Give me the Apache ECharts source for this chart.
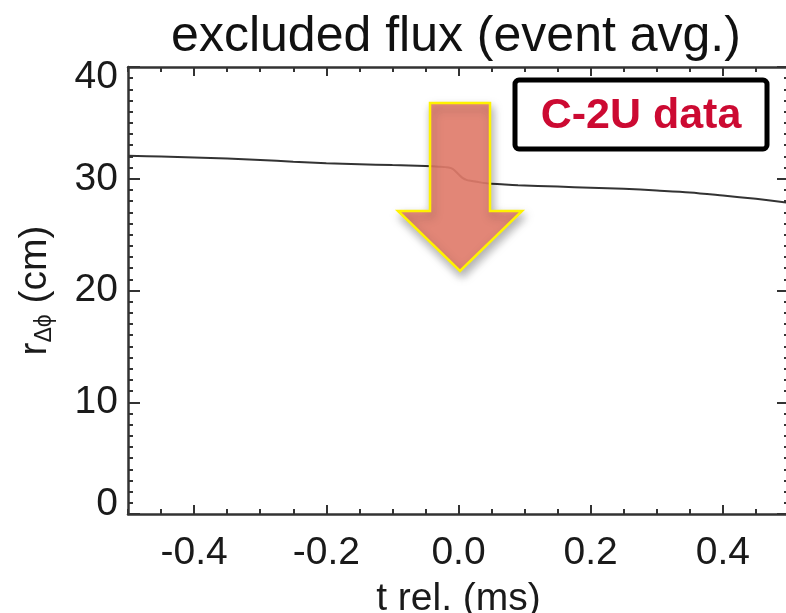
<!DOCTYPE html>
<html>
<head>
<meta charset="utf-8">
<script src="https://cdn.jsdelivr.net/npm/echarts@6/dist/echarts.min.js"></script>
<style>html,body{margin:0;padding:0;background:#fff}#c{width:786px;height:613px}</style>
</head>
<body>
<div id="c"></div>
<script>
// time relative to event (ms)
const T = [-0.5,-0.45,-0.4,-0.35,-0.3,-0.25,-0.2,-0.15,-0.1,-0.05,-0.03,-0.015,-0.008,0.0,0.006,0.012,0.02,0.03,0.046,0.07,0.09,0.15,0.2,0.25,0.3,0.35,0.4,0.45,0.5];
// excluded flux radius (cm)
const R = [32.06,31.99,31.91,31.81,31.68,31.53,31.39,31.3,31.22,31.14,31.08,31.0,30.85,30.4,30.08,29.9,29.8,29.7,29.57,29.48,29.42,29.3,29.2,29.1,28.95,28.78,28.5,28.2,27.85];
const X_LABELS = [-0.4,-0.2,0.0,0.2,0.4];
const Y_LABELS = [0,10,20,30,40];

const FONT = 'Liberation Sans';
const AX = '#333';
const chart = echarts.init(document.getElementById('c'));

function xMajor(pos, labels) {
  return {
    type:'value', min:-0.5, max:0.5, position:pos,
    axisLine:{show:true, onZero:false, lineStyle:{color:AX, width:2.5}},
    axisTick:{show:true, inside:true, length:9, customValues:X_LABELS, lineStyle:{color:AX, width:2}},
    axisLabel:{show:labels, customValues:X_LABELS, margin:20, fontSize:39, fontFamily:FONT, color:'#1a1a1a',
      formatter:v=>v.toFixed(1)},
    splitLine:{show:false},
    name: labels ? 't rel. (ms)' : '',
    nameLocation:'middle', nameGap:66,
    nameTextStyle:{fontSize:39, fontFamily:FONT, color:'#1a1a1a'}
  };
}
function xMinor(pos) {
  return {
    type:'value', min:-0.5, max:0.5, interval:0.05, position:pos,
    axisLine:{show:false, onZero:false},
    axisTick:{show:true, inside:true, length:5, lineStyle:{color:AX, width:2}},
    axisLabel:{show:false}, splitLine:{show:false}
  };
}
function yAxis(pos, labels) {
  return {
    type:'value', min:0, max:40, interval:10, position:pos,
    axisLine:{show:true, onZero:false, lineStyle:{color:AX, width:2.5}},
    axisTick:{show:true, inside:true, length:12, lineStyle:{color:AX, width:2}},
    minorTick:{show:true, splitNumber:10, length:5, lineStyle:{color:AX, width:2}},
    axisLabel:{show:labels, customValues:Y_LABELS, margin:10, fontSize:39, fontFamily:FONT, color:'#1a1a1a',
      formatter:v=> v === Y_LABELS[Y_LABELS.length-1] ? '{dn|'+v+'}' : (v === Y_LABELS[0] ? '{up|'+v+'}' : String(v)),
      rich:{
        dn:{fontSize:39, fontFamily:FONT, color:'#1a1a1a', padding:[20,0,0,0]},
        up:{fontSize:39, fontFamily:FONT, color:'#1a1a1a', padding:[0,0,20,0]}
      }},
    splitLine:{show:false},
    name: labels ? '{r|r}{s|Δϕ}{r|\u00a0(cm)}' : '',
    nameLocation:'middle', nameRotate:90, nameGap:72,
    nameTextStyle:{fontFamily:FONT, color:'#1a1a1a', rich:{
      r:{fontSize:39, fontFamily:FONT, color:'#1a1a1a', lineHeight:40, verticalAlign:'top'},
      s:{fontSize:23, fontFamily:FONT, color:'#1a1a1a', lineHeight:24, padding:[22,0,0,0], verticalAlign:'bottom'}
    }}
  };
}

chart.setOption({
  animation:false,
  title:{text:'excluded flux (event avg.)', left:451, top:7, textAlign:'center',
    textStyle:{fontSize:50, fontWeight:'normal', fontFamily:FONT, color:'#111'}},
  grid:{left:128, top:67, width:661, height:447, containLabel:false, outerBoundsMode:'none'},
  xAxis:[xMajor('bottom', true), xMajor('top', false), xMinor('bottom'), xMinor('top')],
  yAxis:[yAxis('left', true), yAxis('right', false)],
  series:[{
    type:'line', xAxisIndex:0, yAxisIndex:0,
    data:T.map((t,i)=>[t,R[i]]),
    showSymbol:false, smooth:0.3,
    lineStyle:{color:'#333', width:2}, z:2
  }],
  graphic:[
    {type:'polygon', z:100,
     shape:{points:[[430,103],[490,103],[490,211],[522,211],[460,271],[398,211],[430,211]]},
     style:{fill:'rgba(232,128,110,0.88)', stroke:'#FFF200', lineWidth:2.5,
       shadowBlur:10, shadowColor:'rgba(0,0,0,0.35)', shadowOffsetX:2, shadowOffsetY:5}},
    {type:'rect', z:100, shape:{x:515, y:80, width:252, height:69, r:4},
     style:{fill:'#fff', stroke:'#000', lineWidth:5}},
    {type:'text', z:101, x:641, y:116,
     style:{text:'C-2U data', fill:'#CC0A32', font:'bold 43px "Liberation Sans"', align:'center', verticalAlign:'middle'}}
  ]
});
</script>
</body>
</html>
